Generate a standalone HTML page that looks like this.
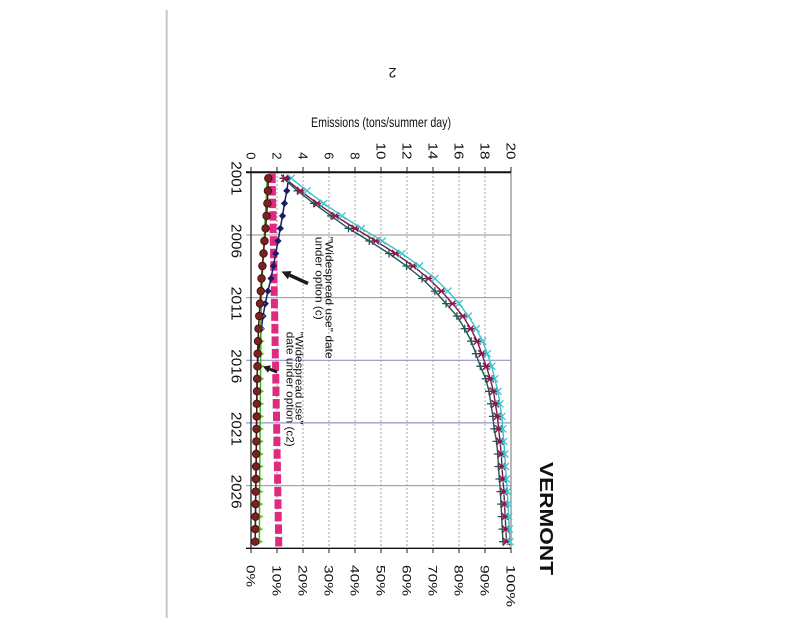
<!DOCTYPE html>
<html><head><meta charset="utf-8"><style>
html,body{margin:0;padding:0;background:#fff}
svg{display:block}
text{font-family:"Liberation Sans",Arial,sans-serif;fill:#111}
</style></head><body>
<svg xmlns="http://www.w3.org/2000/svg" width="800" height="618" viewBox="0 0 800 618">
<defs>
<marker id="mCirc" markerUnits="userSpaceOnUse" markerWidth="10" markerHeight="10" viewBox="0 0 10 10" refX="5" refY="5" overflow="visible"><circle cx="5" cy="5" r="3.8" fill="#7a2222" stroke="#3a0c0c" stroke-width="0.8"/></marker>
<marker id="mSq" markerUnits="userSpaceOnUse" markerWidth="8" markerHeight="11" viewBox="0 0 8 11" refX="4" refY="5.5" overflow="visible"><rect x="0.5" y="0.75" width="7" height="9.5" fill="#e02a80"/></marker>
<marker id="mDia" markerUnits="userSpaceOnUse" markerWidth="10" markerHeight="10" viewBox="0 0 10 10" refX="5" refY="5" overflow="visible"><polygon points="5,1.4 8.6,5 5,8.6 1.4,5" fill="#1c1c66"/></marker>
<marker id="mTri" markerUnits="userSpaceOnUse" markerWidth="8" markerHeight="8" viewBox="0 0 8 8" refX="3" refY="4" overflow="visible"><polygon points="2,1.2 7,4 2,6.8" fill="#66cc33"/></marker>
<marker id="mX" markerUnits="userSpaceOnUse" markerWidth="10" markerHeight="10" viewBox="0 0 10 10" refX="5" refY="5" overflow="visible"><path d="M1.5,1.5 L8.5,8.5 M8.5,1.5 L1.5,8.5" stroke="#3cc4cc" stroke-width="1.3" fill="none"/></marker>
<marker id="mStar" markerUnits="userSpaceOnUse" markerWidth="10" markerHeight="10" viewBox="0 0 10 10" refX="5" refY="5" overflow="visible"><path d="M1.5,1.5 L8.5,8.5 M8.5,1.5 L1.5,8.5 M1,5 L9,5" stroke="#8a1848" stroke-width="1.5" fill="none"/></marker>
<marker id="mPlus" markerUnits="userSpaceOnUse" markerWidth="10" markerHeight="10" viewBox="0 0 10 10" refX="5" refY="5" overflow="visible"><path d="M5,1 L5,9 M1,5 L9,5" stroke="#1e5a58" stroke-width="1.3" fill="none"/></marker>
</defs>

<!-- page edge -->
<line x1="166.7" y1="10" x2="166.7" y2="618" stroke="#c8c8c8" stroke-width="2"/>

<!-- page number (upside down) -->
<text transform="translate(392.5,68) rotate(180)" text-anchor="middle" font-size="14">2</text>

<!-- axis title -->
<text x="311" y="127" font-size="14" textLength="140" lengthAdjust="spacingAndGlyphs">Emissions (tons/summer day)</text>

<!-- vertical dotted gridlines -->
<g stroke="#a0a0a0" stroke-width="1" stroke-dasharray="2,2">
<line x1="277" y1="172" x2="277" y2="548"/>
<line x1="303" y1="172" x2="303" y2="548"/>
<line x1="329" y1="172" x2="329" y2="548"/>
<line x1="355" y1="172" x2="355" y2="548"/>
<line x1="381" y1="172" x2="381" y2="548"/>
<line x1="407" y1="172" x2="407" y2="548"/>
<line x1="433" y1="172" x2="433" y2="548"/>
<line x1="459" y1="172" x2="459" y2="548"/>
<line x1="485" y1="172" x2="485" y2="548"/>
</g>
<!-- horizontal gridlines -->
<g stroke-width="1.2">
<line x1="246" y1="235" x2="511" y2="235" stroke="#a8a8a8"/>
<line x1="246" y1="297.6" x2="511" y2="297.6" stroke="#a8a8a8"/>
<line x1="246" y1="360.3" x2="511" y2="360.3" stroke="#9494c8"/>
<line x1="246" y1="422.9" x2="511" y2="422.9" stroke="#9494c8"/>
<line x1="246" y1="485.6" x2="511" y2="485.6" stroke="#a8a8a8"/>
</g>

<!-- axes -->
<line x1="511" y1="172" x2="511" y2="548" stroke="#888" stroke-width="1.2"/>
<line x1="251" y1="172" x2="251" y2="548" stroke="#222" stroke-width="1.3"/>
<line x1="246" y1="548.3" x2="511" y2="548.3" stroke="#111" stroke-width="1.3"/>
<line x1="246" y1="172.3" x2="511" y2="172.3" stroke="#111" stroke-width="2"/>
<g stroke="#222" stroke-width="1">
<line x1="251" y1="167" x2="251" y2="172"/><line x1="277" y1="167" x2="277" y2="172"/><line x1="303" y1="167" x2="303" y2="172"/><line x1="329" y1="167" x2="329" y2="172"/><line x1="355" y1="167" x2="355" y2="172"/><line x1="381" y1="167" x2="381" y2="172"/><line x1="407" y1="167" x2="407" y2="172"/><line x1="433" y1="167" x2="433" y2="172"/><line x1="459" y1="167" x2="459" y2="172"/><line x1="485" y1="167" x2="485" y2="172"/><line x1="511" y1="167" x2="511" y2="172"/>
<line x1="251" y1="548" x2="251" y2="553"/><line x1="277" y1="548" x2="277" y2="553"/><line x1="303" y1="548" x2="303" y2="553"/><line x1="329" y1="548" x2="329" y2="553"/><line x1="355" y1="548" x2="355" y2="553"/><line x1="381" y1="548" x2="381" y2="553"/><line x1="407" y1="548" x2="407" y2="553"/><line x1="433" y1="548" x2="433" y2="553"/><line x1="459" y1="548" x2="459" y2="553"/><line x1="485" y1="548" x2="485" y2="553"/><line x1="511" y1="548" x2="511" y2="553"/>
</g>

<!-- top axis labels -->
<g font-size="13" text-anchor="end">
<text transform="translate(246.7,159.5) rotate(90)">0</text>
<text transform="translate(272.7,159.5) rotate(90)">2</text>
<text transform="translate(298.7,159.5) rotate(90)">4</text>
<text transform="translate(324.7,159.5) rotate(90)">6</text>
<text transform="translate(350.7,159.5) rotate(90)">8</text>
<text transform="translate(376.7,159.5) rotate(90)" textLength="17" lengthAdjust="spacingAndGlyphs">10</text>
<text transform="translate(402.7,159.5) rotate(90)" textLength="17" lengthAdjust="spacingAndGlyphs">12</text>
<text transform="translate(428.7,159.5) rotate(90)" textLength="17" lengthAdjust="spacingAndGlyphs">14</text>
<text transform="translate(454.7,159.5) rotate(90)" textLength="17" lengthAdjust="spacingAndGlyphs">16</text>
<text transform="translate(480.7,159.5) rotate(90)" textLength="17" lengthAdjust="spacingAndGlyphs">18</text>
<text transform="translate(506.7,159.5) rotate(90)" textLength="17" lengthAdjust="spacingAndGlyphs">20</text>
</g>

<!-- year labels -->
<g font-size="14.5" text-anchor="middle">
<text transform="translate(231.5,178.3) rotate(90)" textLength="34" lengthAdjust="spacingAndGlyphs">2001</text>
<text transform="translate(231.5,241.0) rotate(90)" textLength="34" lengthAdjust="spacingAndGlyphs">2006</text>
<text transform="translate(231.5,303.6) rotate(90)" textLength="34" lengthAdjust="spacingAndGlyphs">2011</text>
<text transform="translate(231.5,366.3) rotate(90)" textLength="34" lengthAdjust="spacingAndGlyphs">2016</text>
<text transform="translate(231.5,428.9) rotate(90)" textLength="34" lengthAdjust="spacingAndGlyphs">2021</text>
<text transform="translate(231.5,491.6) rotate(90)" textLength="34" lengthAdjust="spacingAndGlyphs">2026</text>
</g>

<!-- percent labels -->
<g font-size="12">
<text transform="translate(246.7,565) rotate(90)" textLength="22" lengthAdjust="spacingAndGlyphs">0%</text>
<text transform="translate(272.7,565) rotate(90)" textLength="31" lengthAdjust="spacingAndGlyphs">10%</text>
<text transform="translate(298.7,565) rotate(90)" textLength="31" lengthAdjust="spacingAndGlyphs">20%</text>
<text transform="translate(324.7,565) rotate(90)" textLength="31" lengthAdjust="spacingAndGlyphs">30%</text>
<text transform="translate(350.7,565) rotate(90)" textLength="31" lengthAdjust="spacingAndGlyphs">40%</text>
<text transform="translate(376.7,565) rotate(90)" textLength="31" lengthAdjust="spacingAndGlyphs">50%</text>
<text transform="translate(402.7,565) rotate(90)" textLength="31" lengthAdjust="spacingAndGlyphs">60%</text>
<text transform="translate(428.7,565) rotate(90)" textLength="31" lengthAdjust="spacingAndGlyphs">70%</text>
<text transform="translate(454.7,565) rotate(90)" textLength="31" lengthAdjust="spacingAndGlyphs">80%</text>
<text transform="translate(480.7,565) rotate(90)" textLength="31" lengthAdjust="spacingAndGlyphs">90%</text>
<text transform="translate(506.7,565) rotate(90)" textLength="42" lengthAdjust="spacingAndGlyphs">100%</text>
</g>

<!-- VERMONT -->
<text transform="translate(540,462) rotate(90)" font-size="18" font-weight="bold" textLength="113" lengthAdjust="spacingAndGlyphs">VERMONT</text>

<!-- annotations -->
<g font-size="11">
<text transform="translate(325.4,236.7) rotate(90)" textLength="122" lengthAdjust="spacingAndGlyphs">"Widespread use" date</text>
<text transform="translate(315.5,236.7) rotate(90)" textLength="83" lengthAdjust="spacingAndGlyphs">under option (c)</text>
<text transform="translate(295.5,331.7) rotate(90)" textLength="93" lengthAdjust="spacingAndGlyphs">"Widespread use"</text>
<text transform="translate(286.5,331.7) rotate(90)" textLength="115" lengthAdjust="spacingAndGlyphs">date under option (c2)</text>
</g>

<!-- series: magenta squares -->
<polyline fill="none" stroke="none" marker-start="url(#mSq)" marker-mid="url(#mSq)" marker-end="url(#mSq)" points="272.2,178.3 272.4,190.8 272.6,203.4 272.9,215.9 273.1,228.4 273.3,241.0 273.5,253.5 273.8,266.0 274.0,278.5 274.2,291.1 274.4,303.6 274.7,316.1 274.9,328.7 275.1,341.2 275.3,353.7 275.6,366.3 275.8,378.8 276.0,391.3 276.2,403.8 276.5,416.4 276.7,428.9 276.9,441.4 277.1,454.0 277.4,466.5 277.6,479.0 277.8,491.6 278.0,504.1 278.2,516.6 278.5,529.1 278.7,541.7"/>

<!-- navy diamonds -->
<polyline fill="none" stroke="#1c1c66" stroke-width="1.5" marker-start="url(#mDia)" marker-mid="url(#mDia)" marker-end="url(#mDia)" points="288.7,178.3 286.8,190.8 284.5,203.4 282.5,215.9 280.3,228.4 278.0,241.0 275.7,253.5 273.4,266.0 271.0,278.5 267.9,291.1 265.3,303.6 263.0,316.1 261.4,328.7 260.0,341.2 258.3,353.7 257.4,366.3 257.1,378.8 257.0,391.3 256.8,403.8 256.7,416.4 256.5,428.9 256.4,441.4 256.2,454.0 256.1,466.5 255.9,479.0 255.8,491.6 255.6,504.1 255.5,516.6 255.3,529.1 255.2,541.7"/>

<!-- green triangles -->
<polyline fill="none" stroke="#3cb02a" stroke-width="1.5" marker-start="url(#mTri)" marker-mid="url(#mTri)" marker-end="url(#mTri)" points="267.3,178.3 266.6,190.8 266.0,203.4 265.3,215.9 264.7,228.4 264.0,241.0 263.4,253.5 262.7,266.0 262.2,278.5 261.7,291.1 261.3,303.6 261.0,316.1 260.9,328.7 260.8,341.2 260.7,353.7 260.6,366.3 260.5,378.8 260.4,391.3 260.3,403.8 260.2,416.4 260.1,428.9 260.0,441.4 259.9,454.0 259.8,466.5 259.7,479.0 259.6,491.6 259.5,504.1 259.5,516.6 259.4,529.1 259.3,541.7"/>

<!-- brown circles -->
<polyline fill="none" stroke="#4a1410" stroke-width="1.5" marker-start="url(#mCirc)" marker-mid="url(#mCirc)" marker-end="url(#mCirc)" points="268.3,178.3 267.9,190.8 267.4,203.4 266.6,215.9 265.6,228.4 264.5,241.0 263.5,253.5 262.4,266.0 261.5,278.5 260.8,291.1 260.0,303.6 259.2,316.1 258.5,328.7 258.0,341.2 257.6,353.7 257.4,366.3 257.1,378.8 257.0,391.3 256.8,403.8 256.7,416.4 256.5,428.9 256.4,441.4 256.2,454.0 256.1,466.5 255.9,479.0 255.8,491.6 255.6,504.1 255.5,516.6 255.3,529.1 255.2,541.7"/>

<!-- teal plus -->
<polyline fill="none" stroke="#1e5a58" stroke-width="1.4" marker-start="url(#mPlus)" marker-mid="url(#mPlus)" marker-end="url(#mPlus)" points="283.5,178.3 297.5,190.8 313.8,203.4 331.0,215.9 348.5,228.4 369.3,241.0 389.0,253.5 406.5,266.0 422.0,278.5 434.9,291.1 446.0,303.6 456.9,316.1 464.7,328.7 471.2,341.2 475.8,353.7 480.3,366.3 485.7,378.8 489.0,391.3 490.9,403.8 492.9,416.4 494.2,428.9 496.5,441.4 497.8,454.0 498.4,466.5 499.4,479.0 500.4,491.6 501.0,504.1 501.7,516.6 502.3,529.1 503.0,541.7"/>

<!-- maroon star -->
<polyline fill="none" stroke="#7a1a44" stroke-width="1.4" marker-start="url(#mStar)" marker-mid="url(#mStar)" marker-end="url(#mStar)" points="284.8,178.3 300.5,190.8 317.3,203.4 335.5,215.9 355.0,228.4 375.8,241.0 395.5,253.5 413.0,266.0 428.5,278.5 441.4,291.1 452.5,303.6 462.9,316.1 470.7,328.7 477.2,341.2 481.8,353.7 486.3,366.3 490.2,378.8 493.5,391.3 495.4,403.8 497.4,416.4 498.7,428.9 500.0,441.4 501.3,454.0 501.9,466.5 502.9,479.0 503.9,491.6 504.5,504.1 505.2,516.6 505.8,529.1 506.5,541.7"/>

<!-- cyan x -->
<polyline fill="none" stroke="#40c0cc" stroke-width="1.4" marker-start="url(#mX)" marker-mid="url(#mX)" marker-end="url(#mX)" points="291.3,178.3 307.0,190.8 323.8,203.4 342.0,215.9 361.5,228.4 382.3,241.0 402.0,253.5 419.5,266.0 435.0,278.5 447.9,291.1 459.0,303.6 468.4,316.1 476.2,328.7 482.7,341.2 487.3,353.7 491.8,366.3 494.7,378.8 498.0,391.3 499.9,403.8 501.9,416.4 502.8,428.9 503.8,441.4 504.8,454.0 505.4,466.5 506.4,479.0 507.4,491.6 508.0,504.1 508.7,516.6 509.3,529.1 510.0,541.7"/>

<!-- arrows -->
<line x1="308" y1="283.5" x2="289.7" y2="275.2" stroke="#1a1a1a" stroke-width="3.5"/>
<polygon points="281.5,271.5 291.55,271.1 287.85,279.3" fill="#1a1a1a"/>
<line x1="277" y1="372" x2="269.5" y2="369.1" stroke="#1a1a1a" stroke-width="3"/>
<polygon points="263,366.5 270.96,365.34 268.04,372.78" fill="#1a1a1a"/>
</svg>
</body></html>
